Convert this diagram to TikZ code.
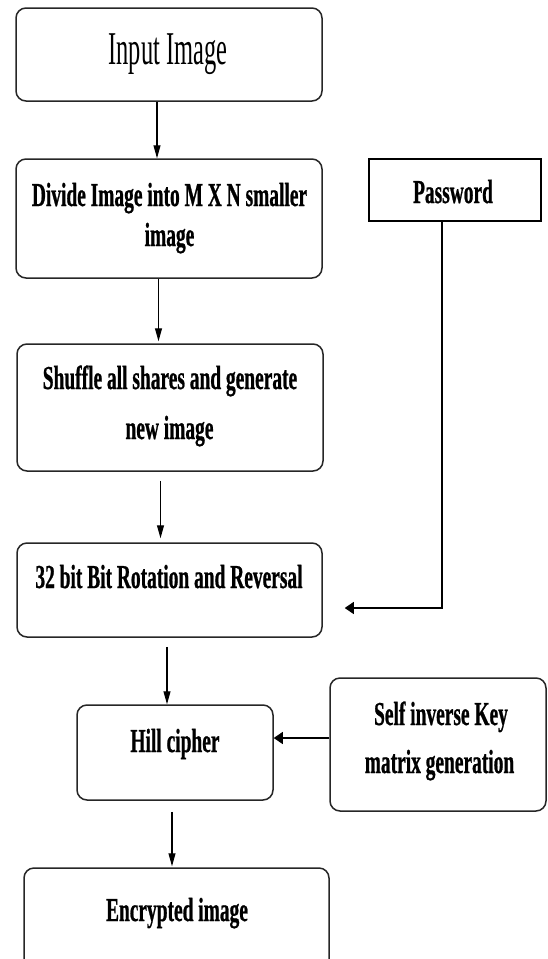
\documentclass[tikz,border=0pt]{standalone}
\usepackage{fontspec}
\setmainfont{Liberation Serif}
\newfontfamily\condreg[FakeStretch=0.52]{Liberation Serif}
\newfontfamily\condbold[FakeStretch=0.58, FakeBold=0.7]{Liberation Serif Bold}
\usetikzlibrary{arrows.meta}
\tikzset{
  rbox/.style={draw=black!85, line width=1.5pt, rounded corners=10pt, inner sep=0pt},
  sbox/.style={draw=black, line width=1.2pt, inner sep=0pt},
  lblreg/.style={anchor=base, inner sep=0pt, font=\condreg\fontsize{47}{52}\selectfont},
  lbl/.style={anchor=base, inner sep=0pt, font=\condbold\fontsize{33.5}{38}\selectfont},
  varr/.style={line width=1.1pt, -{Triangle[length=13pt,width=7pt]}},
  harr/.style={line width=1.1pt, -{Triangle[length=9pt,width=12pt]}},
}
\begin{document}
\begin{tikzpicture}[x=1pt,y=-1pt]
\useasboundingbox (0,0) rectangle (547,959);
\begin{scope}
\clip (0,0) rectangle (547,959);
% boxes
\node[rbox, minimum width=306pt, minimum height=93pt]  (b1)   at (169,54.5) {};
\node[rbox, minimum width=306pt, minimum height=119pt] (b2)   at (169,218.5) {};
\node[sbox, minimum width=172pt, minimum height=62pt]  (pw)   at (455,190) {};
\node[rbox, minimum width=306pt, minimum height=127pt] (b3)   at (170,407.5) {};
\node[rbox, minimum width=305pt, minimum height=94pt]  (b4)   at (169.5,590) {};
\node[rbox, minimum width=196pt, minimum height=95pt]  (hill) at (175,752.5) {};
\node[rbox, minimum width=216pt, minimum height=133pt] (self) at (438,744.5) {};
\node[rbox, minimum width=305pt, minimum height=107pt] (enc)  at (176.5,921.5) {};
% labels
\node[lblreg] (t1)  at (168,64) {Input Image};
\node[lbl]    (t2a) at (169.5,206) {Divide Image into M X N smaller};
\node[lbl]    (t2b) at (169.5,246) {image};
\node[lbl]    (tpw) at (453,203) {Password};
\node[lbl]    (t3a) at (170,389) {Shuffle all shares and generate};
\node[lbl]    (t3b) at (169.5,439) {new image};
\node[lbl]    (t4)  at (169,588) {32 bit Bit Rotation and Reversal};
\node[lbl]    (th)  at (175,752) {Hill cipher};
\node[lbl]    (tsa) at (441,725) {Self inverse Key};
\node[lbl]    (tsb) at (439.5,773) {matrix generation};
\node[lbl]    (te)  at (177,921) {Encrypted image};
% connectors
\draw[varr] ([xshift=-12pt]b1.south) -- ([xshift=-12pt]b1.south |- b2.north);
\draw[varr] ([xshift=-10.5pt]b2.south) -- ([xshift=-10.5pt,yshift=2pt]b2.south |- b3.north);
\draw[varr] ([xshift=-9.5pt,yshift=-9pt]b3.south) -- ([xshift=-9.5pt,yshift=4pt]b3.south |- b4.north);
\draw[varr] ([xshift=-2.5pt,yshift=-9pt]b4.south) -- ([xshift=-2.5pt]b4.south |- hill.north);
\draw[varr] ([xshift=-3pt,yshift=-11pt]hill.south) -- ([xshift=-3pt,yshift=1pt]hill.south |- enc.north);
\draw[harr] ([xshift=-13pt]pw.south) |- ([xshift=22pt,yshift=-18pt]b4.east);
\draw[harr] ([yshift=6.5pt]self.west) -- ([yshift=6.5pt]self.west -| hill.east);
\end{scope}
\end{tikzpicture}
\end{document}
